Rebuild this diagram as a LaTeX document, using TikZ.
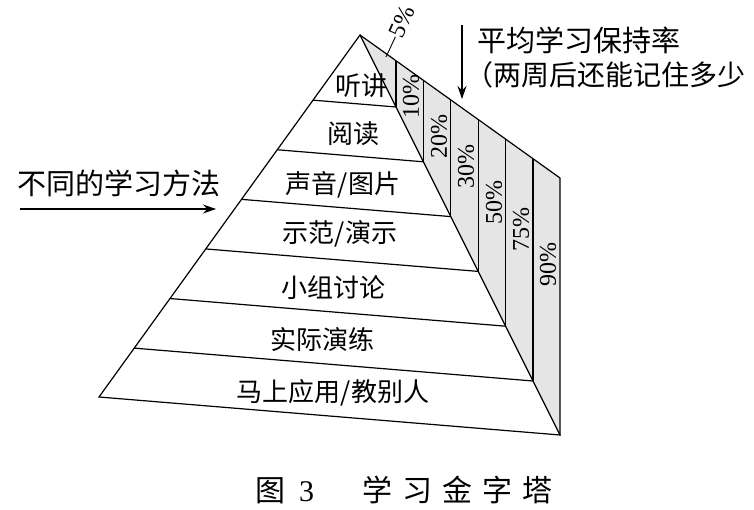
\documentclass[tikz,border=0pt]{standalone}
\usepackage{fontspec}
\setmainfont{Liberation Serif}
\newfontfamily\cjk{Noto Sans CJK SC}
\usepackage{tikz}
\usetikzlibrary{arrows.meta,calc}

\begin{document}
\begin{tikzpicture}[x=1pt,y=-1pt,
        tier/.style={font=\cjk\fontsize{26}{26}\selectfont, inner sep=0pt},
        note/.style={font=\cjk\fontsize{29}{29}\selectfont, inner sep=0pt},
        pct/.style={font=\fontsize{24}{24}\selectfont, rotate=90, inner sep=0pt},
        band/.style={fill=black!10},
        edge/.style={line width=1.2pt},
        >={Stealth[length=13pt,width=9pt]}
      ]
        \useasboundingbox (0,0) rectangle (754,510);
        \coordinate (apex) at (360,35);
        \coordinate (bl) at (99,397);
        \coordinate (br) at (560,435);
        \coordinate (tr) at (560,178);

        % retention band and front face
        \fill[band] (apex) -- (tr) -- (br) -- cycle;
        \draw[edge] (apex) -- (tr) -- (br);
        \draw[edge, fill=white] (apex) -- (bl) -- (br) -- cycle;
        \foreach \t in {0.18,0.317,0.454,0.591,0.728,0.865}{
          \draw[edge] ($(apex)!\t!(bl)$) -- ($(apex)!\t!(br)$);
          \draw[edge] ($(apex)!\t!(br)$) -- ($(apex)!\t!(tr)$);
        }

        % learning methods
        \foreach \x/\y/\txt [count=\i] in {361/86/听讲, 353/134/阅读,
            343/185/{声音/图片}, 340/234/{示范/演示}, 333/288/小组讨论,
            322/340/实际演练, 333/393/{马上应用/教别人}}
          \node[tier] (lay\i) at (\x,\y) {\txt};

        % retention rates
        \foreach \x/\y/\txt [count=\i] in {411/97/10, 439/137/20, 466/167/30,
            494/203/50, 521/230/75, 548/265/90}
          \node[pct] (rate\i) at (\x,\y) {\txt\%};
        \node[pct, rotate=-24] (rate0) at (402,22) {5\%};
        \coordinate (tip0) at (386,57);
        \draw[line width=0.9pt] (tip0) -- (rate0.west);

        % side notes
        \node[note] (meth) at (119,183) {不同的学习方法};
        \coordinate (methA) at (20,209);
        \coordinate (methB) at (216,209);
        \draw[->, line width=1.1pt] (methA) -- (methB);

        \node[note, anchor=west] (keep1) at (477,40) {平均学习保持率};
        \node[note, anchor=west, font=\cjk\fontsize{28}{28}\selectfont] (keep2) at (465,75) {（两周后还能记住多少};
        \coordinate (keepA) at (462,25);
        \coordinate (keepB) at (462,99);
        \draw[->, line width=1.1pt] (keepA) -- (keepB);

        % caption
        \node[anchor=west, inner sep=0pt, font=\cjk\fontsize{30}{30}\selectfont] (cap) at (255,490)
          {图\hspace{14pt}{\rmfamily 3}\hspace{48pt}学\hspace{10pt}习\hspace{10pt}金\hspace{10pt}字\hspace{10pt}塔};
      \end{tikzpicture}
\end{document}
